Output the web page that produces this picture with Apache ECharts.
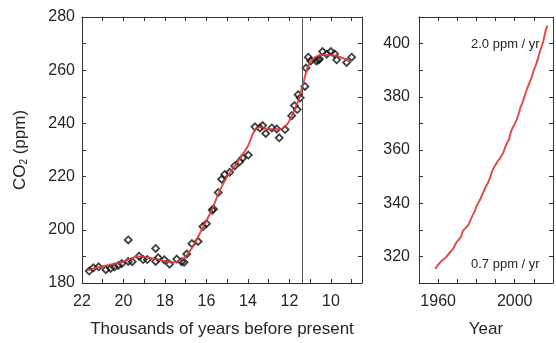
<!DOCTYPE html>
<html>
<head>
<meta charset="utf-8">
<script src="https://cdn.jsdelivr.net/npm/echarts@6/dist/echarts.min.js"></script>
<style>
html,body{margin:0;padding:0;background:#fff;}
#chart{width:556px;height:343px;}
</style>
</head>
<body>
<div id="chart"></div>
<script>
// Ice-core CO2 (thousands of years before present, ppm)
const iceAge = [21.65,21.45,21.2,20.85,20.62,20.44,20.25,20.08,19.77,19.77,19.58,19.25,19.05,18.85,18.45,18.45,18.33,18.03,17.78,17.43,17.2,17.08,16.95,16.7,16.4,16.17,16.0,15.72,15.66,15.43,15.27,15.12,14.88,14.64,14.4,14.25,13.98,13.66,13.42,13.29,13.14,12.85,12.61,12.49,12.21,11.89,11.76,11.62,11.58,11.48,11.25,11.2,11.09,10.97,10.7,10.6,10.55,10.4,10.2,10.0,9.82,9.72,9.24,9.0];
const iceCO2 = [184.5,185.7,186.1,185.0,185.5,186.0,186.6,187.3,196.2,188.1,188.0,190.1,188.8,188.8,193.0,188.1,189.5,188.7,187.1,189.0,188.0,187.8,190.9,194.8,195.6,201.2,202.3,207.4,207.8,214,219,220.8,221.6,224,225.6,227,228.1,238.7,238.3,239.2,236.2,238.3,237.9,234.6,237.7,242.9,246.7,245.2,250.8,249.6,253.9,260.8,264.9,263.5,263.5,263.8,264.2,267,266,267,266.1,263.9,262.9,264.9];
// Smoothed fit through ice-core record
const fitAge = [21.7,21.0,20.0,19.3,18.7,18.0,17.6,17.3,17.0,16.6,16.2,15.8,15.4,15.0,14.5,14.0,13.7,13.4,13.0,12.5,12.2,11.9,11.6,11.3,11.1,10.85,10.4,9.9,9.1];
const fitCO2 = [184.8,186.3,188.0,190.0,189.4,188.3,187.8,188.4,190.0,194.5,200.5,206.5,214,220,225.5,231.5,237,238.6,237.8,237.8,238.8,242.5,248,256,261.5,264.3,265.8,265.6,263.5];
const markerAge = 11.4;
// Instrumental record (year, ppm)
const years = [1958.5,1960,1961,1962,1963,1964,1965,1966,1967,1968,1969,1970,1971,1972,1973,1974,1975,1976,1977,1978,1979,1980,1981,1982,1983,1984,1985,1986,1987,1988,1989,1990,1991,1992,1993,1994,1995,1996,1997,1998,1999,2000,2001,2002,2003,2004,2005,2006,2007,2008,2009,2010,2011,2012,2013,2014,2015,2016,2017];
const mloCO2 = [315.3,316.91,317.64,318.45,318.99,319.62,320.04,321.37,322.18,323.05,324.62,325.68,326.32,327.46,329.68,330.19,331.13,332.03,333.84,335.41,336.84,338.76,340.12,341.48,343.15,344.85,346.35,347.61,349.31,351.69,353.20,354.45,355.70,356.54,357.21,358.96,360.97,362.74,363.88,366.84,368.54,369.71,371.32,373.45,375.98,377.70,379.98,382.09,384.02,385.83,387.64,390.10,391.85,394.06,396.74,398.81,401.01,404.41,406.76];
// Tick labels
const leftXTicks = [9,10,11,12,13,14,15,16,17,18,19,20,21,22];
const leftXLabels = [10,12,14,16,18,20,22];
const rightXLabels = [1960,2000];
const rateLabels = ['2.0 ppm / yr','0.7 ppm / yr'];

const FONT = 'Liberation Sans, Arial, Helvetica, sans-serif';
const TXT = '#262626';
const AX = '#333';
const RED = '#dd3b3b';

const chart = echarts.init(document.getElementById('chart'), null, {renderer:'canvas'});

function frameAxis(extra){
  return Object.assign({
    type:'value',
    axisLine:{show:true,onZero:false,lineStyle:{color:AX,width:1}},
    axisTick:{show:true,inside:true,length:4,lineStyle:{color:AX,width:1}},
    axisLabel:{show:false},
    splitLine:{show:false}
  }, extra);
}
const labelStyle = {color:TXT,fontSize:16,fontFamily:FONT};

chart.setOption({
  backgroundColor:'#fff',
  animation:false,
  grid:[
    {left:82,top:17,width:280,height:267},
    {left:419,top:17,width:143,height:267}
  ],
  xAxis:[
    frameAxis({gridIndex:0,position:'bottom',inverse:true,min:8.5,max:22,
      axisTick:{show:true,inside:true,length:4,lineStyle:{color:AX},customValues:leftXTicks},
      axisLabel:Object.assign({show:true,margin:11,customValues:leftXLabels},labelStyle),
      name:'Thousands of years before present',nameLocation:'middle',nameGap:38,
      nameTextStyle:{color:TXT,fontSize:17,fontFamily:FONT}}),
    frameAxis({gridIndex:0,position:'top',inverse:true,min:8.5,max:22,
      axisTick:{show:true,inside:true,length:4,lineStyle:{color:AX},customValues:leftXTicks}}),
    frameAxis({gridIndex:1,position:'bottom',min:1950,max:2020,interval:10,
      axisLabel:Object.assign({show:true,margin:11,formatter:v=>rightXLabels.indexOf(v)>=0?String(v):''},labelStyle),
      name:'Year',nameLocation:'middle',nameGap:38,
      nameTextStyle:{color:TXT,fontSize:17,fontFamily:FONT}}),
    frameAxis({gridIndex:1,position:'top',min:1950,max:2020,interval:10})
  ],
  yAxis:[
    frameAxis({gridIndex:0,position:'left',min:180,max:280,interval:10,
      axisLabel:Object.assign({show:true,margin:7,formatter:v=>v%20===0?String(v):''},labelStyle),
      name:'CO{s|2} (ppm)',nameLocation:'middle',nameGap:53,nameRotate:90,
      nameTextStyle:{color:TXT,fontSize:17,fontFamily:FONT,
        rich:{s:{fontSize:10,fontFamily:FONT,color:TXT,verticalAlign:'bottom',padding:[8,0,0,0]}}}}),
    frameAxis({gridIndex:0,position:'right',min:180,max:280,interval:10}),
    frameAxis({gridIndex:1,position:'left',min:310,max:410,interval:10,
      axisLabel:Object.assign({show:true,margin:9,formatter:v=>v%20===0?String(v):''},labelStyle)}),
    frameAxis({gridIndex:1,position:'right',min:310,max:410,interval:10})
  ],
  graphic:[
    {type:'text',left:471,top:38,style:{text:rateLabels[0],fill:TXT,font:'13px '+FONT}},
    {type:'text',left:471,top:258,style:{text:rateLabels[1],fill:TXT,font:'13px '+FONT}}
  ],
  series:[
    {type:'scatter',xAxisIndex:0,yAxisIndex:0,symbol:'diamond',symbolSize:7,
      data:iceAge.map((a,i)=>[a,iceCO2[i]]),
      itemStyle:{color:'rgba(255,255,255,0)',borderColor:'#111',borderWidth:1.8},z:2},
    {type:'line',xAxisIndex:0,yAxisIndex:0,smooth:0.35,showSymbol:false,
      data:fitAge.map((a,i)=>[a,fitCO2[i]]),
      lineStyle:{color:RED,width:2,opacity:0.9},z:3,
      markLine:{silent:true,symbol:['none','none'],label:{show:false},
        lineStyle:{color:'#555',width:1,type:'solid'},data:[{xAxis:markerAge}]}},
    {type:'line',xAxisIndex:2,yAxisIndex:2,showSymbol:false,
      data:years.map((y,i)=>[y,mloCO2[i]]),
      lineStyle:{color:RED,width:2,opacity:0.9},z:3}
  ]
});
</script>
</body>
</html>
